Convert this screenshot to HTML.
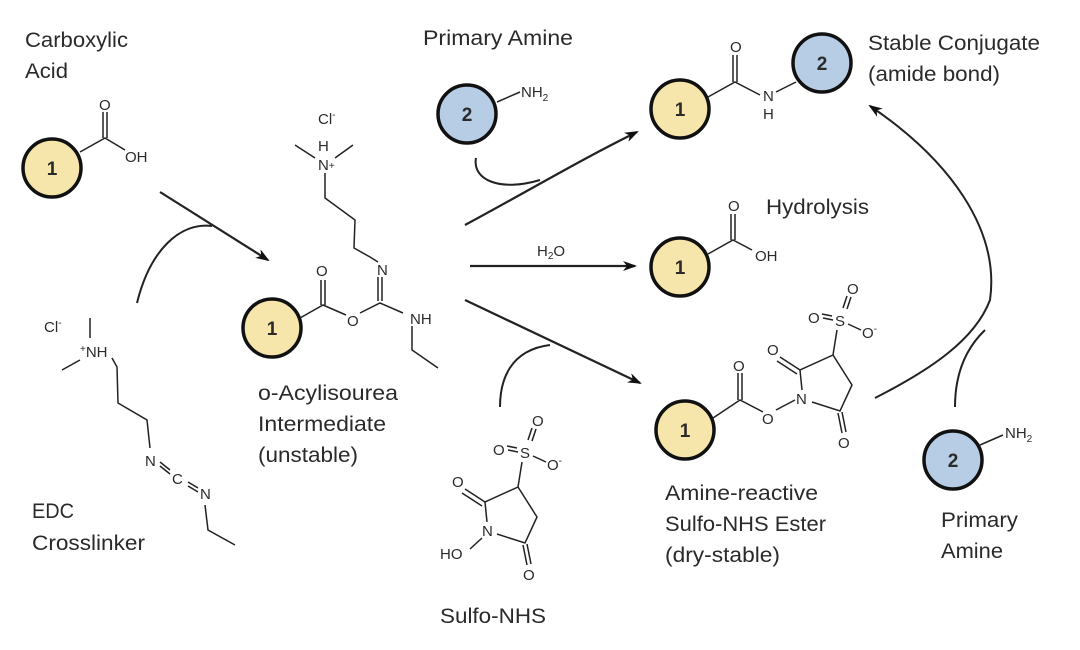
<!DOCTYPE html>
<html><head><meta charset="utf-8"><style>
html,body{margin:0;padding:0;background:#fff;}
svg{display:block;}
text{font-family:"Liberation Sans Narrow","Liberation Sans",sans-serif;fill:#2a2a2a;}
.l{font-size:21px;}
.a{font-size:15px;}
</style></head><body>
<svg width="1080" height="650" viewBox="0 0 1080 650" xmlns="http://www.w3.org/2000/svg">
<defs>
<marker id="ah" markerWidth="14" markerHeight="10" refX="12" refY="5" orient="auto" markerUnits="userSpaceOnUse">
<path d="M0,0 L14,5 L0,10 L4,5 Z" fill="#111"/>
</marker>
</defs>
<g stroke="#222" stroke-width="1.5" fill="none">
<path d="M80,152 L105,138 L125,150"/>
<path d="M103,138 V112 M107,138 V112"/>
<path d="M160,192 L268,260" stroke-width="2.2" marker-end="url(#ah)"/>
<path d="M137,303 C150,250 180,222 212,226" stroke-width="2"/>
<path d="M90,318 V338 M62,370 L80,360 M112,358 L117,367 L118,403 L147,420 L150,448"/>
<path d="M160,462 L170,470 M160,466 L170,474 M188,482 L198,488 M188,486 L198,492"/>
<path d="M205,505 L208,530 L235,545"/>
<path d="M300,318 L323,305 L346,315"/>
<path d="M321,305 V280 M325,305 V280"/>
<path d="M360,313 L380,303 L403,313"/>
<path d="M378,301 V277 M382,301 V277"/>
<path d="M378,262 L370,257 L354,248 L355,220 L325,198 L325,173"/>
<path d="M295,145 L315,158 M353,145 L335,158"/>
<path d="M412,326 L412,350 L438,368"/>
<path d="M497,102 L520,92"/>
<path d="M476,158 C472,180 500,192 540,180" stroke-width="2"/>
<path d="M465,225 C530,190 580,160 637,132" stroke-width="2.2" marker-end="url(#ah)"/>
<path d="M708,97 L735,82 L760,95"/>
<path d="M733,82 V55 M737,82 V55"/>
<path d="M776,92 L796,82"/>
<path d="M470,266 L635,266" stroke-width="2.2" marker-end="url(#ah)"/>
<path d="M708,254 L733,240 L752,250"/>
<path d="M731,240 V214 M735,240 V214"/>
<path d="M465,300 L640,383" stroke-width="2.2" marker-end="url(#ah)"/>
<path d="M500,407 C500,380 510,350 550,345" stroke-width="2"/>
<g>
<path d="M508,450 L518,452 M507,446 L517,448"/>
<path d="M528,440 L532,428 M532,441 L536,429"/>
<path d="M533,456 L546,462"/>
<path d="M522,462 L518,487 L485,502 L487,522 M497,534 L525,543 L537,517 L518,487"/>
<path d="M485,502 L465,489 M482,506 L462,493"/>
<path d="M523,545 L527,565 M527,544 L531,564"/>
<path d="M470,549 L482,538"/>
</g>
<path d="M713,418 L740,400 L763,412"/>
<path d="M738,400 V373 M742,400 V373"/>
<path d="M776,410 L795,400"/>
<g transform="translate(315,-132)">
<path d="M508,450 L518,452 M507,446 L517,448"/>
<path d="M528,440 L532,428 M532,441 L536,429"/>
<path d="M533,456 L546,462"/>
<path d="M522,462 L518,487 L485,502 L487,522 M497,534 L525,543 L537,517 L518,487"/>
<path d="M485,502 L465,489 M482,506 L462,493"/>
<path d="M523,545 L527,565 M527,544 L531,564"/>
</g>
<path d="M875,398 C930,370 975,340 990,300 C1000,230 950,160 870,106" stroke-width="2" marker-end="url(#ah)"/>
<path d="M955,407 C955,380 962,352 985,330" stroke-width="2"/>
<path d="M980,445 L1003,435"/>
</g>
<g stroke="#111" stroke-width="3.5">
<circle cx="52" cy="168" r="29" fill="#f6e6ab"/>
<circle cx="272" cy="328" r="29" fill="#f6e6ab"/>
<circle cx="467" cy="114" r="29" fill="#b7cce5"/>
<circle cx="680" cy="109" r="29" fill="#f6e6ab"/>
<circle cx="822" cy="63" r="29" fill="#b7cce5"/>
<circle cx="680" cy="267" r="29" fill="#f6e6ab"/>
<circle cx="685" cy="430" r="29" fill="#f6e6ab"/>
<circle cx="953" cy="460" r="29" fill="#b7cce5"/>
</g>
<g font-weight="bold" font-size="19" text-anchor="middle">
<text x="52" y="175">1</text><text x="272" y="335">1</text><text x="467" y="121">2</text>
<text x="680" y="116">1</text><text x="822" y="70">2</text><text x="680" y="274">1</text>
<text x="685" y="437">1</text><text x="953" y="467">2</text>
</g>
<g class="a">
<text x="99" y="110">O</text><text x="125" y="162">OH</text>
<text x="44" y="332">Cl<tspan font-size="10" dy="-6">-</tspan></text>
<text x="80" y="357"><tspan font-size="10" dy="-5">+</tspan><tspan dy="5">NH</tspan></text>
<text x="145" y="466">N</text><text x="172" y="484">C</text><text x="200" y="499">N</text>
<text x="316" y="276">O</text><text x="347" y="326">O</text><text x="377" y="275">N</text><text x="410" y="324">NH</text>
<text x="318" y="124">Cl<tspan font-size="10" dy="-6">-</tspan></text>
<text x="318" y="151">H</text><text x="318" y="170">N<tspan font-size="10" dy="-1">+</tspan></text>
<text x="521" y="97">NH<tspan font-size="10" dy="4">2</tspan></text>
<text x="730" y="52">O</text><text x="763" y="101">N</text><text x="763" y="119">H</text>
<text x="728" y="211">O</text><text x="755" y="261">OH</text>
<text x="733" y="371">O</text><text x="762" y="424">O</text><text x="796" y="404">N</text>
<text x="1005" y="438">NH<tspan font-size="10" dy="4">2</tspan></text>
<text x="537" y="256">H<tspan font-size="10" dy="3">2</tspan><tspan dy="-3">O</tspan></text>
</g>
<g class="a">
<text x="493" y="455">O</text><text x="520" y="458">S</text><text x="532" y="426">O</text><text x="547" y="470">O<tspan font-size="10" dy="-6">-</tspan></text>
<text x="452" y="487">O</text><text x="482" y="536">N</text><text x="440" y="559">HO</text><text x="523" y="580">O</text>
</g>
<g class="a" transform="translate(315,-132)">
<text x="493" y="455">O</text><text x="520" y="458">S</text><text x="532" y="426">O</text><text x="547" y="470">O<tspan font-size="10" dy="-6">-</tspan></text>
<text x="452" y="487">O</text><text x="523" y="580">O</text>
</g>
<g class="l">
<text x="25" y="47" textLength="103" lengthAdjust="spacingAndGlyphs">Carboxylic</text>
<text x="25" y="78" textLength="43" lengthAdjust="spacingAndGlyphs">Acid</text>
<text x="423" y="45" textLength="150" lengthAdjust="spacingAndGlyphs">Primary Amine</text>
<text x="868" y="50" textLength="172" lengthAdjust="spacingAndGlyphs">Stable Conjugate</text>
<text x="868" y="81" textLength="132" lengthAdjust="spacingAndGlyphs">(amide bond)</text>
<text x="766" y="214" textLength="103" lengthAdjust="spacingAndGlyphs">Hydrolysis</text>
<text x="258" y="400" textLength="140" lengthAdjust="spacingAndGlyphs">o-Acylisourea</text>
<text x="258" y="431" textLength="128" lengthAdjust="spacingAndGlyphs">Intermediate</text>
<text x="258" y="462" textLength="100" lengthAdjust="spacingAndGlyphs">(unstable)</text>
<text x="32" y="518" textLength="42" lengthAdjust="spacingAndGlyphs">EDC</text>
<text x="32" y="550" textLength="113" lengthAdjust="spacingAndGlyphs">Crosslinker</text>
<text x="665" y="500" textLength="153" lengthAdjust="spacingAndGlyphs">Amine-reactive</text>
<text x="665" y="531" textLength="161" lengthAdjust="spacingAndGlyphs">Sulfo-NHS Ester</text>
<text x="665" y="562" textLength="115" lengthAdjust="spacingAndGlyphs">(dry-stable)</text>
<text x="941" y="527" textLength="77" lengthAdjust="spacingAndGlyphs">Primary</text>
<text x="941" y="558" textLength="62" lengthAdjust="spacingAndGlyphs">Amine</text>
<text x="440" y="623" textLength="106" lengthAdjust="spacingAndGlyphs">Sulfo-NHS</text>
</g>
</svg>
</body></html>
